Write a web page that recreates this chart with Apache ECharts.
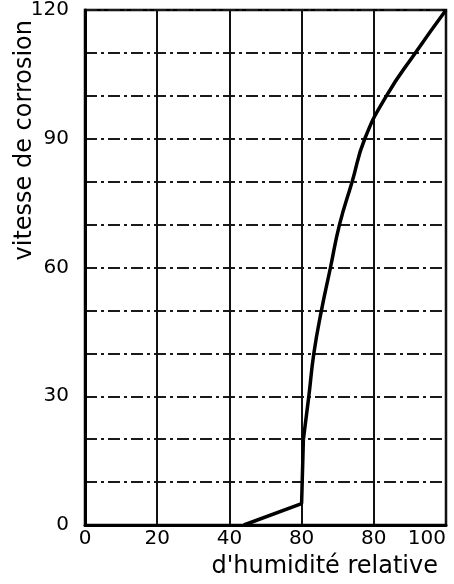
<!DOCTYPE html>
<html>
<head>
<meta charset="utf-8">
<script src="https://cdn.jsdelivr.net/npm/echarts@6/dist/echarts.min.js"></script>
<style>
  html, body { margin: 0; padding: 0; background: #fff; }
  #chart { width: 454px; height: 584px; }
</style>
</head>
<body>
<div id="chart"></div>
<script>
// tick labels as printed on the scan
var xTickLabels = ['0', '20', '40', '80', '80', '100'];
var yTickLabels = [0, 30, 60, 90, 120];

// lower straight part of the curve (humidity, rate)
var lowPart = [[44, 0], [60, 5], [60.5, 20]];
// upper rising part
var highPart = [[60.5, 20], [62, 30], [63.4, 40], [65.5, 50], [68, 60], [70.5, 70],
                [74, 80], [77.5, 90], [83.5, 100], [91.5, 110], [100, 120]];

var chart = echarts.init(document.getElementById('chart'));
var font = "'DejaVu Sans', 'Liberation Sans', sans-serif";

var option = {
    backgroundColor: '#fff',
    animation: false,
    grid: {
        left: 85, right: 8, top: 10, bottom: 59,
        outerBoundsMode: 'none',
        show: true,
        borderColor: '#000',
        borderWidth: 2.5
    },
    xAxis: {
        type: 'value',
        min: 0, max: 100, interval: 20,
        name: "d'humidité relative",
        nameLocation: 'end',
        nameGap: 0,
        nameMoveOverlap: false,
        nameTextStyle: {
            color: '#000', fontSize: 24, fontFamily: font,
            align: 'right', verticalAlign: 'top',
            padding: [30, 8, 0, 0]
        },
        axisLine: { lineStyle: { color: '#000', width: 3 } },
        axisTick: { show: false },
        axisLabel: {
            color: '#000', fontSize: 20, fontFamily: font, margin: 4,
            alignMaxLabel: 'right',
            formatter: function (v) { return xTickLabels[Math.round(v / 20)]; }
        },
        splitLine: { show: true, lineStyle: { color: '#111', width: 2 } }
    },
    yAxis: {
        type: 'value',
        min: 0, max: 120, interval: 10,
        name: 'vitesse de corrosion',
        nameLocation: 'end',
        nameRotate: 90,
        nameGap: 0,
        nameMoveOverlap: false,
        nameTextStyle: {
            color: '#000', fontSize: 24, fontFamily: font,
            align: 'right', verticalAlign: 'bottom',
            padding: [0, 10, 48, 0]
        },
        axisLine: { lineStyle: { color: '#000', width: 3 } },
        axisTick: { show: false },
        axisLabel: {
            color: '#000', fontSize: 20, fontFamily: font, margin: 16,
            formatter: function (v) { return yTickLabels.indexOf(v) >= 0 ? String(v) : ''; }
        },
        splitLine: {
            show: true,
            lineStyle: { color: '#1a1a1a', width: 1.8, type: [12, 4, 3, 4] }
        }
    },
    series: [
        {
            type: 'line', data: lowPart, symbol: 'none', smooth: false,
            lineStyle: { color: '#000', width: 3.5 }
        },
        {
            type: 'line', data: highPart, symbol: 'none', smooth: 0.5,
            lineStyle: { color: '#000', width: 3.5 }
        }
    ]
};
chart.setOption(option);
</script>
</body>
</html>
